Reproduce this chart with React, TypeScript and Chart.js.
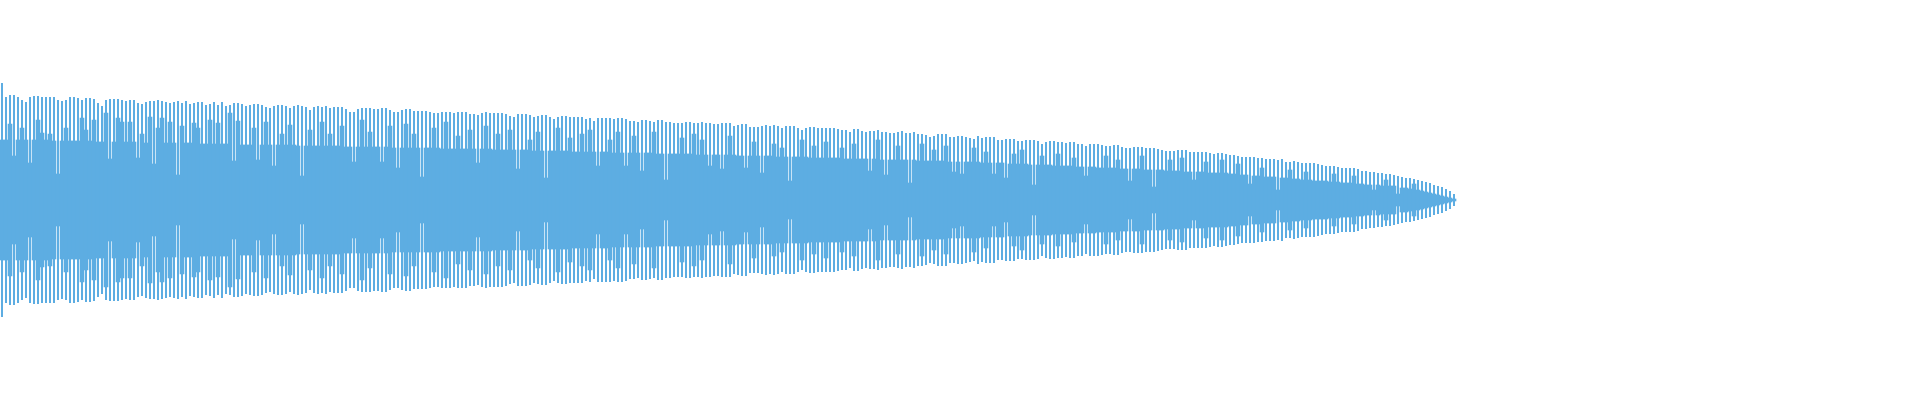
import React, { useEffect, useRef } from "react";
import { Chart, registerables } from "chart.js";

Chart.register(...registerables);

// Number of sample slots on the time axis (the waveform fills the first part)
const SLOT_COUNT = 480;
const sampleLabels: string[] = Array.from({ length: SLOT_COUNT }, (_, i) => String(i));

// Peak amplitude per sample (symmetric around zero)
const peakAmplitude: number[] = [
  117, 103, 105, 105, 103, 100, 98, 103, 104, 104,
  103, 103, 103, 103, 100, 99, 100, 103, 103, 102,
  100, 102, 102, 101, 97, 94, 100, 101, 101, 101,
  100, 99, 100, 100, 97, 96, 98, 99, 99, 100,
  99, 98, 97, 98, 99, 97, 99, 96, 97, 98,
  98, 95, 96, 98, 95, 98, 94, 95, 97, 97,
  96,
  94, 95, 96, 96, 95, 93, 92, 94, 95, 95,
  94, 92, 94, 95, 94, 93, 90, 93, 94, 93,
  94, 92, 93, 93, 93, 91, 88, 88, 91, 92,
  92, 92, 91, 91, 92, 92, 90, 88, 88, 90,
  91, 91, 89, 89, 89, 89, 88, 87, 87, 88,
  88, 88, 87, 88, 88, 88, 86, 86, 85, 87,
  88, 87,
  87, 87, 87, 86, 84, 83, 86, 86, 86, 85,
  83, 84, 85, 85, 83, 81, 83, 84, 84, 83,
  83, 83, 83, 81, 82, 79, 82, 82, 82, 82,
  81, 82, 82, 81, 79, 79, 78, 80, 80, 79,
  78, 80, 80, 78, 78, 77, 77, 77, 78, 78,
  77, 77, 78, 77, 77, 76, 76, 77, 77, 77,
  74,
  75, 76, 76, 73, 73, 73, 74, 75, 74, 75,
  74, 72, 74, 74, 74, 72, 70, 72, 73, 73,
  72, 72, 72, 72, 72, 71, 70, 70, 68, 71,
  71, 69, 68, 69, 69, 70, 68, 68, 67, 67,
  68, 69, 67, 67, 68, 66, 66, 65, 63, 64,
  66, 66, 66, 63, 63, 64, 64, 63, 62, 61,
  64,
  62, 63, 63, 63, 60, 60, 61, 61, 61, 59,
  59, 60, 60, 60, 59, 56, 58, 59, 59, 58,
  58, 57, 58, 58, 56, 56, 54, 56, 56, 56,
  55, 54, 54, 55, 55, 53, 52, 52, 53, 53,
  53, 52, 52, 52, 51, 50, 49, 49, 49, 50,
  50, 50, 48, 48, 48, 48, 48, 47, 46, 47,
  47, 46,
  45, 45, 44, 43, 43, 43, 43, 42, 42, 41,
  41, 41, 40, 41, 38, 38, 39, 38, 37, 37,
  37, 37, 36, 35, 34, 34, 34, 33, 32, 32,
  32, 32, 31, 29, 29, 28, 28, 27, 27, 26,
  26, 25, 24, 23, 22, 22, 21, 20, 19, 18,
  17, 15, 14, 13, 11, 9, 6,
];

// Lower (trough / body) amplitude per sample
const bodyAmplitude: number[] = [
  60, 60, 76, 44, 60, 72, 60, 37, 60, 80,
  67, 60, 66, 59, 26, 59, 72, 59, 59, 59,
  82, 70, 59, 80, 58, 58, 87, 41, 58, 82,
  78, 58, 78, 58, 42, 66, 57, 83, 36, 72,
  82, 57, 78, 57, 25, 74, 57, 57, 77, 72,
  56, 56, 80, 56, 77, 56, 56, 87, 39, 79,
  55, 55,
  55, 72, 40, 55, 78, 55, 34, 55, 66, 55,
  75, 55, 54, 24, 54, 70, 54, 54, 78, 54,
  66, 54, 54, 74, 53, 53, 38, 53, 80, 53,
  68, 53, 53, 38, 53, 74, 52, 32, 52, 76,
  52, 66, 52, 23, 52, 52, 72, 52, 51, 78,
  51, 51, 64, 51, 51, 70, 51, 37, 51, 74,
  51,
  50, 66, 50, 50, 70, 50, 31, 50, 50, 60,
  49, 68, 49, 22, 49, 49, 72, 49, 49, 62,
  48, 48, 66, 48, 70, 48, 34, 48, 48, 60,
  47, 68, 47, 34, 47, 64, 47, 29, 47, 47,
  68, 46, 46, 20, 46, 46, 46, 62, 46, 46,
  66, 45, 60, 45, 34, 45, 45, 31, 45, 64,
  45,
  44, 44, 32, 44, 58, 44, 27, 44, 44, 56,
  43, 52, 43, 19, 43, 43, 60, 43, 42, 54,
  42, 42, 58, 42, 42, 42, 52, 41, 41, 56,
  41, 41, 41, 29, 41, 60, 40, 25, 40, 40,
  54, 40, 40, 17, 40, 39, 56, 39, 39, 50,
  39, 39, 54, 38, 28, 38, 26, 38, 38, 52,
  38,
  37, 48, 37, 26, 37, 37, 22, 36, 46, 36,
  50, 36, 35, 15, 35, 44, 35, 35, 34, 46,
  34, 34, 34, 42, 33, 33, 24, 33, 33, 32,
  32, 44, 32, 32, 40, 31, 31, 19, 31, 31,
  44, 30, 30, 13, 30, 30, 29, 40, 29, 29,
  42, 28, 28, 20, 28, 28, 38, 27, 27, 27,
  40, 27,
  26, 26, 36, 25, 25, 16, 24, 24, 32, 23,
  23, 23, 10, 22, 22, 30, 21, 21, 20, 28,
  20, 19, 19, 19, 19, 18, 26, 18, 17, 17,
  17, 24, 16, 16, 15, 15, 10, 15, 14, 20,
  14, 14, 6, 12, 12, 11, 16, 10, 9, 8,
  7, 6, 5, 4, 3, 2, 1,
];

const Y_MIN = -200;
const Y_MAX = 200;
const WAVE_COLOR = "#5DADE2";

export default function App() {
  const canvasRef = useRef<HTMLCanvasElement | null>(null);

  useEffect(() => {
    if (!canvasRef.current) return;
    const chart = new Chart(canvasRef.current, {
      type: "bar",
      data: {
        labels: sampleLabels,
        datasets: [
          {
            label: "body",
            data: bodyAmplitude.map((v) => [-v, v]) as any,
            backgroundColor: WAVE_COLOR,
            borderWidth: 0,
            borderSkipped: false,
            barPercentage: 1,
            categoryPercentage: 1,
            grouped: false,
          } as any,
          {
            label: "peak",
            data: peakAmplitude.map((v) => [-v, v]) as any,
            backgroundColor: WAVE_COLOR,
            borderWidth: 0,
            borderSkipped: false,
            barPercentage: 0.5,
            categoryPercentage: 1,
            grouped: false,
          } as any,
        ],
      },
      options: {
        animation: false,
        responsive: true,
        maintainAspectRatio: false,
        layout: { padding: 0 },
        plugins: {
          legend: { display: false },
          tooltip: { enabled: false },
        },
        scales: {
          x: { display: false, grid: { display: false } },
          y: { display: false, min: Y_MIN, max: Y_MAX, grid: { display: false } },
        },
      },
    });
    return () => chart.destroy();
  }, []);

  return (
    <div
      style={{
        position: "absolute",
        left: 0,
        top: 0,
        width: "1920px",
        height: "400px",
        background: "#ffffff",
      }}
    >
      <canvas ref={canvasRef} />
    </div>
  );
}
